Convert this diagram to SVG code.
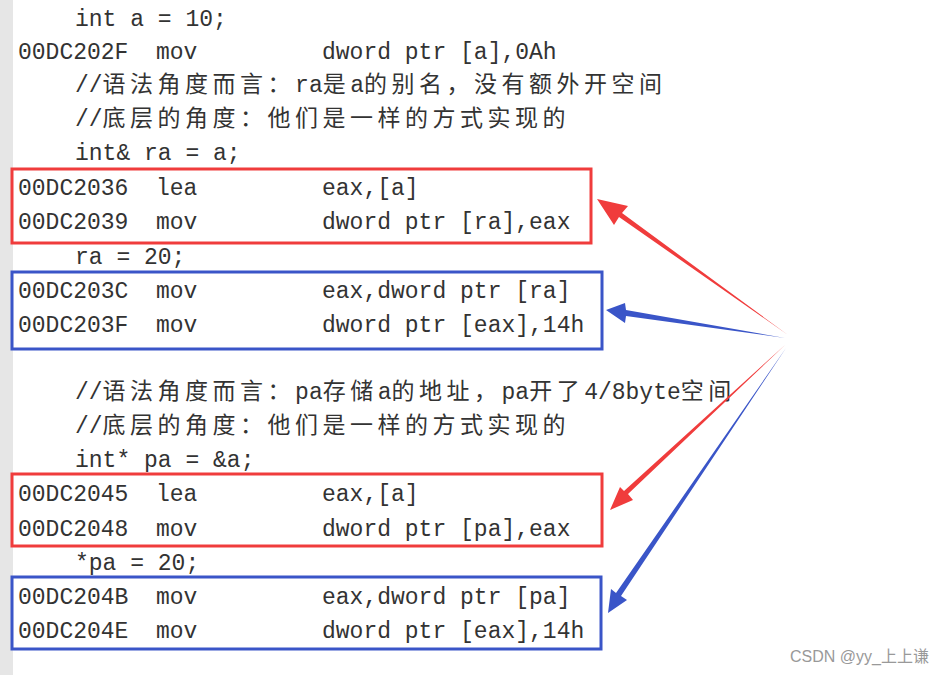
<svg xmlns="http://www.w3.org/2000/svg" width="950" height="675" viewBox="0 0 950 675">
<style>
text{font-family:"Liberation Mono","Noto Sans CJK SC",monospace;font-size:23px;fill:#333}
.c{letter-spacing:4.5px}
.r{fill:none;stroke:#f03c3c;stroke-width:3}
.b{fill:none;stroke:#3a55c8;stroke-width:3}
.wm{font-family:"Liberation Sans","Noto Sans CJK SC",sans-serif;font-size:16px;fill:#999}
</style>
<rect width="950" height="675" fill="#fff"/>
<rect x="0" y="0" width="13" height="675" fill="#e6e6e6"/>
<g id="code">
<text x="75" y="26">int a = 10;</text>
<text x="18" y="59">00DC202F</text><text x="156" y="59">mov</text><text x="322" y="59">dword ptr [a],0Ah</text>
<text x="75" y="92">//<tspan class="c">语法角度而言：</tspan>ra<tspan class="c">是</tspan>a<tspan class="c">的别名，没有额外开空间</tspan></text>
<text x="75" y="126">//<tspan class="c">底层的角度：他们是一样的方式实现的</tspan></text>
<text x="75" y="160">int&amp; ra = a;</text>
<text x="18" y="195">00DC2036</text><text x="156" y="195">lea</text><text x="322" y="195">eax,[a]</text>
<text x="18" y="229">00DC2039</text><text x="156" y="229">mov</text><text x="322" y="229">dword ptr [ra],eax</text>
<text x="75" y="264">ra = 20;</text>
<text x="18" y="298">00DC203C</text><text x="156" y="298">mov</text><text x="322" y="298">eax,dword ptr [ra]</text>
<text x="18" y="332">00DC203F</text><text x="156" y="332">mov</text><text x="322" y="332">dword ptr [eax],14h</text>
<text x="75" y="399">//<tspan class="c">语法角度而言：</tspan>pa<tspan class="c">存储</tspan>a<tspan class="c">的地址，</tspan>pa<tspan class="c">开了</tspan>4/8byte<tspan class="c">空间</tspan></text>
<text x="75" y="433">//<tspan class="c">底层的角度：他们是一样的方式实现的</tspan></text>
<text x="75" y="467">int* pa = &amp;a;</text>
<text x="18" y="501">00DC2045</text><text x="156" y="501">lea</text><text x="322" y="501">eax,[a]</text>
<text x="18" y="536">00DC2048</text><text x="156" y="536">mov</text><text x="322" y="536">dword ptr [pa],eax</text>
<text x="75" y="570">*pa = 20;</text>
<text x="18" y="604">00DC204B</text><text x="156" y="604">mov</text><text x="322" y="604">eax,dword ptr [pa]</text>
<text x="18" y="638">00DC204E</text><text x="156" y="638">mov</text><text x="322" y="638">dword ptr [eax],14h</text>
</g>
<g id="boxes">
<rect class="r" x="12" y="169" width="579" height="74"/>
<rect class="b" x="12" y="272" width="590" height="77"/>
<rect class="r" x="12" y="474" width="590" height="72"/>
<rect class="b" x="12" y="577" width="589" height="72"/>
</g>
<g id="connectors">
<polygon fill="#f03c3c" points="788,335 619,217 614,225 597,199 628,206 622,213"/>
<polygon fill="#3a55c8" points="785,338 626,316 625,323 606,310 625,303 626,310"/>
<polygon fill="#f03c3c" points="785,345 628,494 633,500 610,510 620,487 624,491"/>
<polygon fill="#3a55c8" points="786,348 621,596 627,600 608,613 611,589 616,593"/>
</g>
<text class="wm" x="790" y="662">CSDN @yy_上上谦</text>
</svg>
